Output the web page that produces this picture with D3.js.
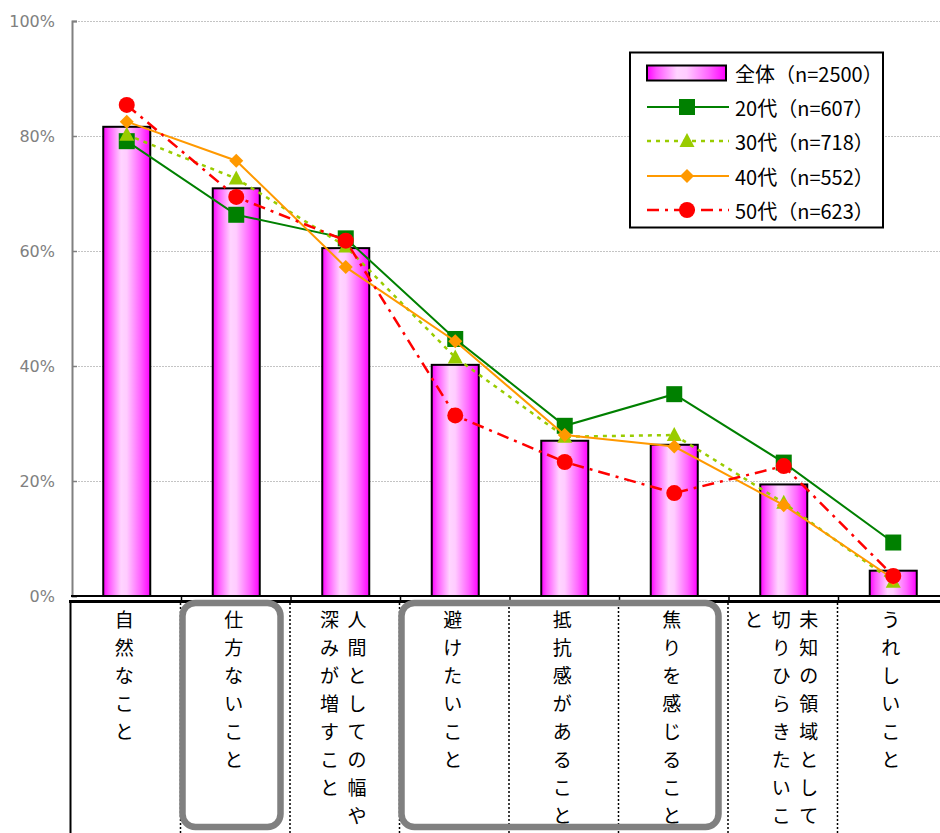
<!DOCTYPE html>
<html><head><meta charset="utf-8">
<script src="https://cdn.jsdelivr.net/npm/d3@7"></script>
<style>html,body{margin:0;padding:0;background:#fff;overflow:hidden}</style>
</head><body>
<svg id="chart" width="940" height="833"></svg>
<script>
const categories = ["自然なこと","仕方ないこと","人間としての幅や深みが増すこと","避けたいこと","抵抗感があること","焦りを感じること","未知の領域として切りひらきたいこと","うれしいこと"];
const overall = [81.6,70.9,60.5,40.2,27.0,26.3,19.4,4.4];
const age20 = [79.1,66.3,62.2,44.7,29.6,35.1,23.2,9.3];
const age30 = [80.2,72.6,60.8,41.5,27.7,28.0,16.2,2.5];
const age40 = [82.5,75.7,57.2,44.3,28.0,26.0,15.8,3.0];
const age50 = [85.4,69.4,61.8,31.4,23.3,17.9,22.6,3.5];
const yTicks = [0,20,40,60,80,100];
const seriesNames = ["全体（n=2500）","20代（n=607）","30代（n=718）","40代（n=552）","50代（n=623）"];
const highlightGroups = [[1,1],[3,5]];

(function(){
const svg = d3.select("#chart");
const W = 940, H = 833;
const pLeft = 72, pTop = 21, pBottom = 596, pRight = 948;
const x = d3.scaleBand().domain(categories).range([pLeft, pRight]).padding(0);
const y = d3.scaleLinear().domain([0,100]).range([pBottom, pTop]);
const bw = x.bandwidth();
const cx = i => x(categories[i]) + bw/2;

const defs = svg.append("defs");
const grad = defs.append("linearGradient").attr("id","barGrad").attr("x1","0").attr("x2","1").attr("y1","0").attr("y2","0");
[[0,"#ff00ff"],[0.12,"#ff55ff"],[0.38,"#ffd4ff"],[0.5,"#ffccff"],[0.78,"#ff66ff"],[1,"#ff00ff"]].forEach(s=>grad.append("stop").attr("offset",s[0]).attr("stop-color",s[1]));

// gridlines
svg.append("g").selectAll("line").data(yTicks.filter(t=>t>0)).join("line")
  .attr("x1", pLeft).attr("x2", W).attr("y1", d=>y(d)+0.5).attr("y2", d=>y(d)+0.5)
  .attr("stroke","#c4c4c4").attr("stroke-width",1).attr("stroke-dasharray","2,1");

// y axis
const yAxis = d3.axisRight(y).tickValues(yTicks).tickSize(5).tickFormat("");
const yg = svg.append("g").attr("transform",`translate(${pLeft},0)`).call(yAxis);
yg.select(".domain").attr("stroke","#808080").attr("stroke-width",2);
yg.selectAll(".tick line").attr("stroke","#808080").attr("stroke-width",1.5);
svg.append("g").selectAll("text").data(yTicks).join("text")
  .attr("x", 55).attr("y", d=>y(d)).attr("dy","0.35em").attr("text-anchor","end")
  .attr("font-family","'DejaVu Sans', sans-serif").attr("font-size",16).attr("fill","#808080")
  .text(d=>d+"%");

// bars
const barW = 47;
svg.append("g").selectAll("rect").data(overall).join("rect")
  .attr("x",(d,i)=>cx(i)-barW/2).attr("width",barW)
  .attr("y",d=>y(d)).attr("height",d=>pBottom-y(d))
  .attr("fill","url(#barGrad)").attr("stroke","#000").attr("stroke-width",2);

// x axis line and ticks
svg.append("line").attr("x1",pLeft-1).attr("x2",W).attr("y1",pBottom).attr("y2",pBottom).attr("stroke","#000").attr("stroke-width",2);
svg.append("g").selectAll("line").data(d3.range(1,categories.length)).join("line")
  .attr("x1",i=>x(categories[i])).attr("x2",i=>x(categories[i]))
  .attr("y1",pBottom).attr("y2",pBottom+5).attr("stroke","#000").attr("stroke-width",1.5);

// table below
svg.append("line").attr("x1",69).attr("x2",W).attr("y1",601.5).attr("y2",601.5).attr("stroke","#000").attr("stroke-width",3);
svg.append("line").attr("x1",70.5).attr("x2",70.5).attr("y1",600).attr("y2",H).attr("stroke","#000").attr("stroke-width",2);
svg.append("g").selectAll("line").data(d3.range(1,categories.length)).join("line")
  .attr("x1",i=>x(categories[i])-1).attr("x2",i=>x(categories[i])-1)
  .attr("y1",603).attr("y2",H).attr("stroke","#000").attr("stroke-width",1.5).attr("stroke-dasharray","2,2");

// category labels (vertical)
const perCol = 8, colGap = 27.5, charGap = 28, fs = 19;
const lg = svg.append("g").attr("font-family","'Noto Sans CJK JP', sans-serif").attr("font-size",fs).attr("fill","#000");
categories.forEach((c,i)=>{
  const chars = Array.from(c);
  const cols = [];
  for (let k=0;k<chars.length;k+=perCol) cols.push(chars.slice(k,k+perCol));
  const n = cols.length;
  const center = cx(i) - 2.5;
  cols.forEach((col,j)=>{
    const colX = center + ((n-1)/2 - j)*colGap;
    const t = lg.append("text").attr("text-anchor","middle").attr("dominant-baseline","central");
    col.forEach((ch,k)=>{
      t.append("tspan").attr("x",colX).attr("y",618 + k*charGap).text(ch);
    });
  });
});

// highlight rounded rects
svg.append("g").selectAll("rect").data(highlightGroups).join("rect")
  .attr("x",d=>x(categories[d[0]])+1)
  .attr("width",d=>x(categories[d[1]])+bw-10.5-(x(categories[d[0]])+1))
  .attr("y",603).attr("height",224).attr("rx",13).attr("ry",13)
  .attr("fill","none").attr("stroke","#808080").attr("stroke-width",6.5);

// series lines
const series = [
  {vals: age20, color:"#008000", dash:null, width:2, shape:"square"},
  {vals: age30, color:"#99cc00", dash:"4,5", width:2.5, shape:"triangle"},
  {vals: age40, color:"#ff9900", dash:null, width:2, shape:"diamond"},
  {vals: age50, color:"#ff0000", dash:"12,6,3,6", width:2.5, shape:"circle"}
];
const line = d3.line().x((d,i)=>cx(i)).y(d=>y(d));
function marker(g, shape, color, px, py){
  if(shape==="square") g.append("rect").attr("x",px-8).attr("y",py-8).attr("width",16).attr("height",16).attr("fill",color);
  else if(shape==="triangle") g.append("path").attr("d",`M${px},${py-8}L${px+7.5},${py+6}L${px-7.5},${py+6}Z`).attr("fill",color);
  else if(shape==="diamond") g.append("path").attr("d",`M${px},${py-7}L${px+7},${py}L${px},${py+7}L${px-7},${py}Z`).attr("fill",color);
  else g.append("circle").attr("cx",px).attr("cy",py).attr("r",8).attr("fill",color);
}
series.forEach(s=>{
  const g = svg.append("g");
  g.append("path").datum(s.vals).attr("d",line).attr("fill","none")
    .attr("stroke",s.color).attr("stroke-width",s.width).attr("stroke-dasharray",s.dash);
  s.vals.forEach((v,i)=>marker(g,s.shape,s.color,cx(i),y(v)));
});

// legend
const leg = svg.append("g");
leg.append("rect").attr("x",630).attr("y",52.5).attr("width",253).attr("height",175).attr("fill","#fff").attr("stroke","#000").attr("stroke-width",2);
const rowY = [73,107,141,176,210];
leg.append("rect").attr("x",647).attr("y",rowY[0]-7.5).attr("width",79).attr("height",15).attr("fill","url(#barGrad)").attr("stroke","#000").attr("stroke-width",2);
series.forEach((s,k)=>{
  const yy = rowY[k+1];
  leg.append("line").attr("x1",647).attr("x2",729).attr("y1",yy).attr("y2",yy).attr("stroke",s.color).attr("stroke-width",s.width).attr("stroke-dasharray",s.dash);
  marker(leg,s.shape,s.color,687,yy);
});
leg.selectAll("text.lab").data(seriesNames).join("text").attr("class","lab")
  .attr("x",735).attr("y",(d,k)=>rowY[k]).attr("dominant-baseline","central")
  .attr("font-family","'Noto Sans CJK JP', sans-serif").attr("font-size",20).attr("fill","#000")
  .text(d=>d);
})();
</script>
</body></html>
